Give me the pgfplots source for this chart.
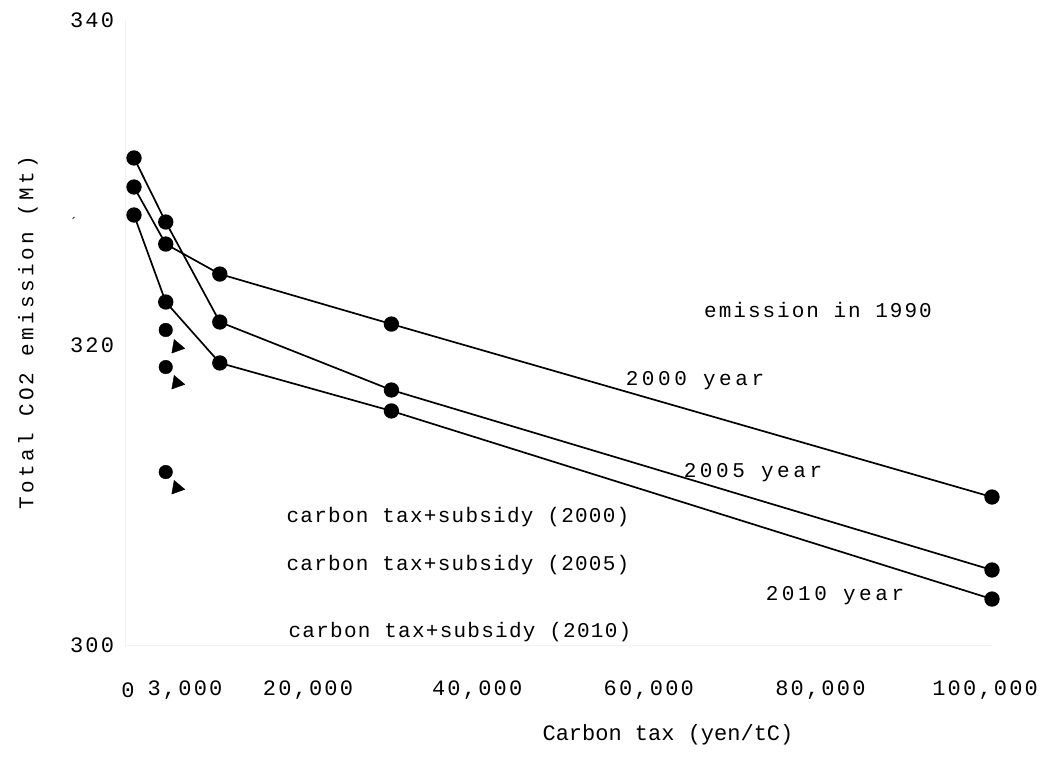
\documentclass[border=0pt]{standalone}
\usepackage{fontspec}
\setmainfont{Liberation Mono}
\usepackage{pgfplots}
\pgfplotsset{compat=1.18}
\newfontfamily\tickfont[LetterSpace=10]{Liberation Mono}
\newcommand{\labfont}[1]{\fontsize{21bp}{25bp}\selectfont\addfontfeatures{LetterSpace=#1}}
\begin{document}
\begin{tikzpicture}
\path[use as bounding box] (-125.42bp,-126bp) rectangle (920.58bp,645bp);
\begin{axis}[
  at={(0,0)}, anchor=south west,
  scale only axis, width=866.58bp, height=625bp,
  xmin=-1000, xmax=100000, ymin=300, ymax=340, clip=false,
  scaled x ticks=false, scaled y ticks=false,
  axis x line*=bottom, axis y line*=left,
  axis line style={draw=black!5, -},
  major tick length=0pt,
  xtick={-700,5940,20280,40000,60000,80000,99200},
  xticklabels={0,{3,000},{20,000},{40,000},{60,000},{80,000},{100,000}},
  ytick={300,319.2,340}, yticklabels={300,320,340},
  xticklabel style={anchor=center, yshift=-45bp, font=\tickfont\fontsize{22bp}{26bp}\selectfont},
  yticklabel style={anchor=center, xshift=-33.4bp, font=\tickfont\fontsize{22bp}{26bp}\selectfont},
  xlabel={Carbon tax (yen/tC)},
  xlabel style={at={(rel axis cs:0.6261,-0.1536)}, anchor=base, font=\labfont{0}\fontsize{22bp}{26bp}\selectfont},
  ylabel={Total CO2 emission (Mt)},
  ylabel style={at={(rel axis cs:-0.1124,0.5)}, anchor=center, font=\labfont{16}},
]
% 2005 year
\addplot[black, line width=1.7bp, mark=*, mark size=6.8bp, mark options={solid, fill=black}] coordinates {(0,331.17) (3700,327.07) (10000,320.67) (30000,316.32) (100000,304.8)};
% 2000 year
\addplot[black, line width=1.7bp, mark=*, mark size=6.8bp, mark options={solid, fill=black}] coordinates {(0,329.31) (3700,325.66) (10000,323.74) (30000,320.54) (100000,309.47)};
% 2010 year
\addplot[black, line width=1.7bp, mark=*, mark size=6.8bp, mark options={solid, fill=black}] coordinates {(0,327.52) (3700,321.95) (10000,318.05) (30000,314.98) (100000,302.94)};
% carbon tax + subsidy
\addplot[black, only marks, mark=*, mark size=6.8bp, mark options={fill=black}] coordinates {(3700,320.16) (3700,317.79) (3700,311.07)};
\addplot[black, only marks, mark=triangle*, mark size=8bp, mark options={fill=black, rotate=-100}] coordinates {(5000,319.07) (5000,316.77) (5000,310.05)};

\node[anchor=base, font=\labfont{9.5}] at (axis cs:79720,320.99) {emission in 1990};
\node[anchor=base, font=\labfont{17}] at (axis cs:65380,316.58) {2000 year};
\node[anchor=base, font=\labfont{17}] at (axis cs:72140,310.75) {2005 year};
\node[anchor=base, font=\labfont{17}] at (axis cs:81700,302.82) {2010 year};
\node[anchor=base, font=\labfont{6}] at (axis cs:37760,307.87) {carbon tax+subsidy (2000)};
\node[anchor=base, font=\labfont{6}] at (axis cs:37760,304.80) {carbon tax+subsidy (2005)};
\node[anchor=base, font=\labfont{6}] at (axis cs:37990,300.51) {carbon tax+subsidy (2010)};
\node[font=\fontsize{9bp}{10bp}\selectfont, rotate=-20] at (axis cs:-7110,327.2) {'};
\end{axis}
\end{tikzpicture}
\end{document}
